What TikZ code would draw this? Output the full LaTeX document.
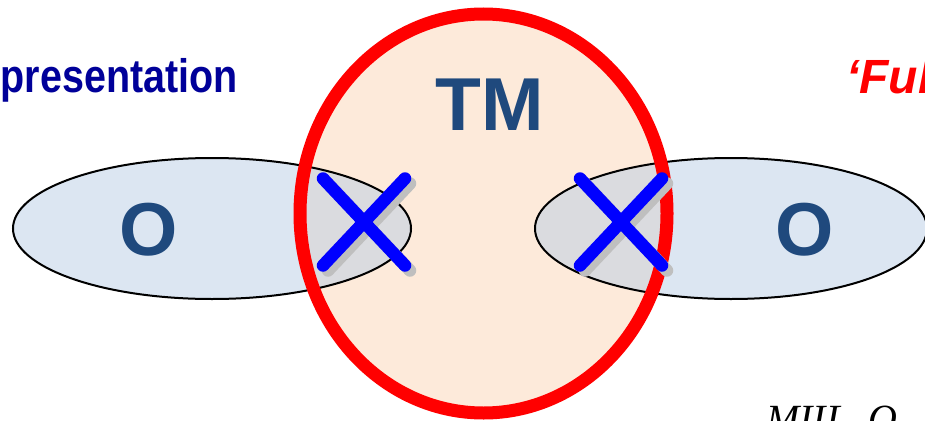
\documentclass[tikz,border=0pt]{standalone}
\usepackage{fontspec}
\setmainfont{Liberation Sans}
\newfontfamily\serifit{Liberation Serif}
\usetikzlibrary{shapes.geometric}
\definecolor{tmpeach}{HTML}{FDEADA}
\definecolor{tmred}{HTML}{FF0000}
\definecolor{ringblue}{HTML}{B9CDE5}
\definecolor{labelblue}{HTML}{1F497D}
\definecolor{titlenavy}{HTML}{000099}
\definecolor{crossblue}{HTML}{0000FF}
\definecolor{crossshade}{HTML}{BFBFBF}

\tikzset{
  tmbody/.style={ellipse, inner sep=0pt, minimum width=367pt, minimum height=399pt},
  ring/.style={ellipse, draw=black, line width=2pt, fill=ringblue,
    fill opacity=0.5, inner sep=0pt, minimum height=141pt},
  biglabel/.style={font=\bfseries\fontsize{75}{80}\selectfont, text=labelblue},
  crossline/.style={line width=12.5pt, line cap=round}
}

\newcommand{\drawcross}[1]{%
  \draw[crossline, crossshade] ([shift={(-36,-38.5)}]#1) -- ([shift={(46,48.5)}]#1);
  \draw[crossline, crossshade] ([shift={(46,-38.5)}]#1) -- ([shift={(-36,48.5)}]#1);
  \draw[crossline, crossblue] ([shift={(-41,-43.5)}]#1) -- ([shift={(41,43.5)}]#1);
  \draw[crossline, crossblue] ([shift={(41,-43.5)}]#1) -- ([shift={(-41,43.5)}]#1);
}

\begin{document}
\begin{tikzpicture}[x=1pt, y=-1pt]
  \useasboundingbox (0,0) rectangle (925,420);
  \clip (0,0) rectangle (925,420);

  % circle body
  \node[tmbody, fill=tmpeach] (tm) at (483.5,213.5) {};

  % the two rings
  \node[ring, minimum width=398pt] (leftring) at (212,228.5) {};
  \node[ring, minimum width=392pt] (rightring) at (731,228.5) {};

  % red rim on top
  \node[tmbody, draw=tmred, line width=13pt] (tmrim) at (tm.center) {};

  % labels
  \node[biglabel] (tmlabel) at (490,105) {TM};
  \node[biglabel] (leftlabel) at (148.5,230) {O};
  \node[biglabel] (rightlabel) at (804.5,230) {O};

  \node[anchor=base east, text=titlenavy, inner sep=0pt,
    font=\bfseries\fontsize{47}{52}\selectfont] (reptitle) at (238,92)
    {\scalebox{0.84}[1]{Representation}};
  \node[anchor=base west, text=tmred, inner sep=0pt,
    font=\bfseries\itshape\fontsize{48}{54}\selectfont] (fulltitle) at (846,93) {‘Full};
  \node[anchor=base west, inner sep=0pt,
    font=\serifit\itshape\fontsize{40}{46}\selectfont] (credit) at (766,432) {MIIL\hspace{0.5em}O};

  % crosses
  \coordinate (leftx) at (364,222);
  \coordinate (rightx) at (621,222);
  \drawcross{leftx}
  \drawcross{rightx}
\end{tikzpicture}
\end{document}
